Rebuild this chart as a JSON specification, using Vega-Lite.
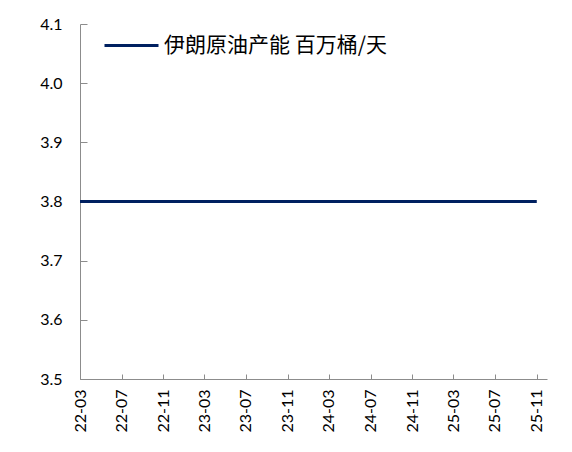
{
  "$schema": "https://vega.github.io/schema/vega-lite/v6.json",
  "autosize": "none",
  "width": 467,
  "height": 355,
  "padding": {"left": 80, "top": 24, "right": 25, "bottom": 73},
  "background": "white",
  "config": {
    "view": {"stroke": null},
    "axis": {"labelFont": "Lato", "labelFontSize": 16, "labelColor": "#000000", "domainColor": "#8c8c8c", "tickColor": "#8c8c8c", "grid": false, "title": null}
  },
  "data": {"values": [
    {"month": "2022-03-01", "value": 3.8}, {"month": "2022-04-01", "value": 3.8}, {"month": "2022-05-01", "value": 3.8},
    {"month": "2022-06-01", "value": 3.8}, {"month": "2022-07-01", "value": 3.8}, {"month": "2022-08-01", "value": 3.8},
    {"month": "2022-09-01", "value": 3.8}, {"month": "2022-10-01", "value": 3.8}, {"month": "2022-11-01", "value": 3.8},
    {"month": "2022-12-01", "value": 3.8}, {"month": "2023-01-01", "value": 3.8}, {"month": "2023-02-01", "value": 3.8},
    {"month": "2023-03-01", "value": 3.8}, {"month": "2023-04-01", "value": 3.8}, {"month": "2023-05-01", "value": 3.8},
    {"month": "2023-06-01", "value": 3.8}, {"month": "2023-07-01", "value": 3.8}, {"month": "2023-08-01", "value": 3.8},
    {"month": "2023-09-01", "value": 3.8}, {"month": "2023-10-01", "value": 3.8}, {"month": "2023-11-01", "value": 3.8},
    {"month": "2023-12-01", "value": 3.8}, {"month": "2024-01-01", "value": 3.8}, {"month": "2024-02-01", "value": 3.8},
    {"month": "2024-03-01", "value": 3.8}, {"month": "2024-04-01", "value": 3.8}, {"month": "2024-05-01", "value": 3.8},
    {"month": "2024-06-01", "value": 3.8}, {"month": "2024-07-01", "value": 3.8}, {"month": "2024-08-01", "value": 3.8},
    {"month": "2024-09-01", "value": 3.8}, {"month": "2024-10-01", "value": 3.8}, {"month": "2024-11-01", "value": 3.8},
    {"month": "2024-12-01", "value": 3.8}, {"month": "2025-01-01", "value": 3.8}, {"month": "2025-02-01", "value": 3.8},
    {"month": "2025-03-01", "value": 3.8}, {"month": "2025-04-01", "value": 3.8}, {"month": "2025-05-01", "value": 3.8},
    {"month": "2025-06-01", "value": 3.8}, {"month": "2025-07-01", "value": 3.8}, {"month": "2025-08-01", "value": 3.8},
    {"month": "2025-09-01", "value": 3.8}, {"month": "2025-10-01", "value": 3.8}, {"month": "2025-11-01", "value": 3.8}
  ]},
  "mark": {"type": "line", "strokeWidth": 3},
  "encoding": {
    "x": {
      "field": "month", "type": "temporal",
      "scale": {"type": "utc", "domain": [{"year": 2022, "month": 3, "date": 1, "utc": true}, {"year": 2025, "month": 12, "date": 1, "utc": true}]},
      "axis": {
        "labelExpr": "utcFormat(datum.value, '%y-%m')", "labelAngle": 270, "labelAlign": "right", "labelBaseline": "middle",
        "tickSize": -5, "labelPadding": 15, "labelOverlap": false, "labelBound": false,
        "values": [
          {"year": 2022, "month": 3, "date": 1, "utc": true}, {"year": 2022, "month": 7, "date": 1, "utc": true},
          {"year": 2022, "month": 11, "date": 1, "utc": true}, {"year": 2023, "month": 3, "date": 1, "utc": true},
          {"year": 2023, "month": 7, "date": 1, "utc": true}, {"year": 2023, "month": 11, "date": 1, "utc": true},
          {"year": 2024, "month": 3, "date": 1, "utc": true}, {"year": 2024, "month": 7, "date": 1, "utc": true},
          {"year": 2024, "month": 11, "date": 1, "utc": true}, {"year": 2025, "month": 3, "date": 1, "utc": true},
          {"year": 2025, "month": 7, "date": 1, "utc": true}, {"year": 2025, "month": 11, "date": 1, "utc": true}
        ]
      }
    },
    "y": {
      "field": "value", "type": "quantitative",
      "scale": {"domain": [3.5, 4.1], "nice": false, "zero": false},
      "axis": {"values": [3.5, 3.6, 3.7, 3.8, 3.9, 4.0, 4.1], "format": ".1f", "tickSize": -7, "labelPadding": 25}
    },
    "color": {
      "datum": "伊朗原油产能 百万桶/天",
      "scale": {"range": ["#002060"]},
      "legend": {
        "title": null, "orient": "none", "legendX": 23, "legendY": -7,
        "symbolType": "stroke", "symbolSize": 2916, "symbolStrokeWidth": 3,
        "labelFont": "Noto Sans CJK SC", "labelFontSize": 21, "labelColor": "#000000", "labelOffset": 4, "labelLimit": 500, "padding": 0
      }
    }
  }
}
